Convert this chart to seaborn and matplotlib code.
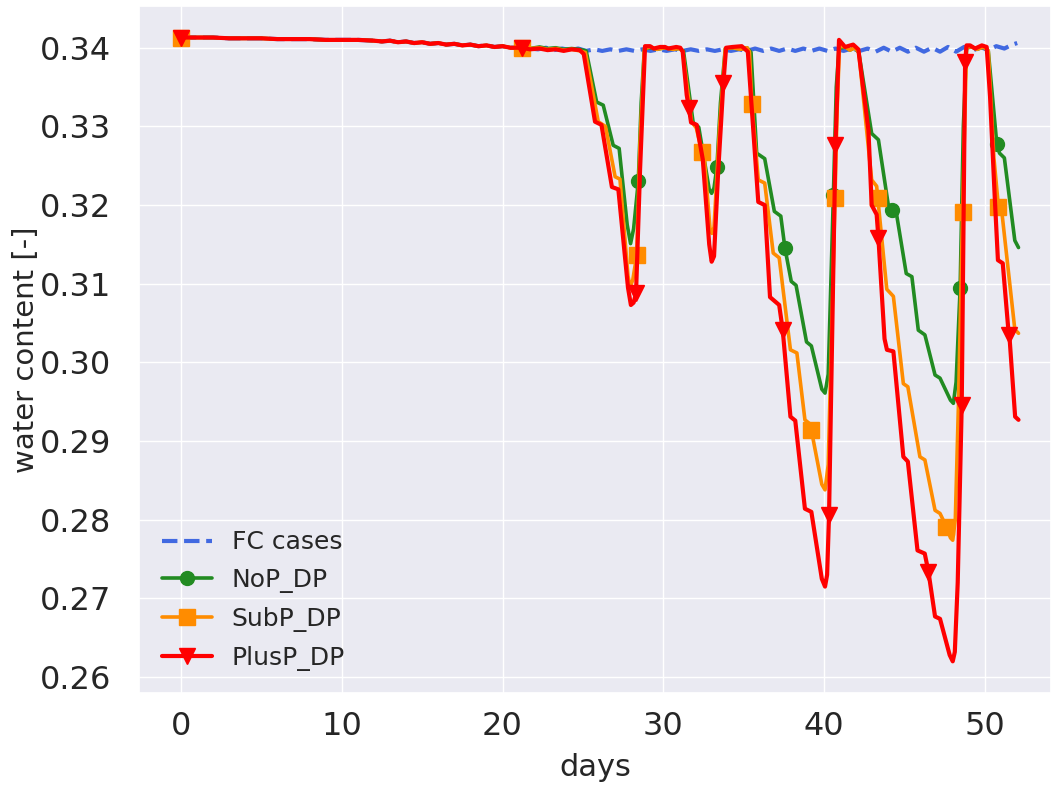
import numpy as np
import pandas as pd
import matplotlib
matplotlib.use("Agg")
import matplotlib.pyplot as plt
from matplotlib.ticker import FormatStrFormatter
import seaborn as sns

# ---------------------------------------------------------------------------
# Water content time series (days, volumetric water content [-])
# ---------------------------------------------------------------------------
# Shared spin-up period, identical for every case
early_days = [0, 1, 2, 3, 4, 5, 6, 7, 8, 9, 10, 11, 12, 12.5, 13, 13.5, 14,
              14.5, 15, 15.5, 16, 16.5, 17, 17.5, 18, 18.5, 19, 19.5, 20,
              20.5, 21.2]
early_wc = [0.3413, 0.3413, 0.3413, 0.3412, 0.3412, 0.3412, 0.3411, 0.3411,
            0.3411, 0.3410, 0.3410, 0.3410, 0.3409, 0.3408, 0.3409, 0.3407,
            0.3408, 0.3406, 0.3407, 0.3405, 0.3406, 0.3404, 0.3405, 0.3403,
            0.3404, 0.3402, 0.3403, 0.3401, 0.3402, 0.3400, 0.3400]

# FC cases
fc_days = [21.7, 22.2, 22.7, 23.2, 23.7, 24.2, 24.7, 25.2, 25.7, 26.2, 26.7,
           27.2, 27.7, 28.2, 28.7, 29.2, 29.7, 30.2, 30.7, 31.2, 31.7, 32.2,
           32.7, 33.2, 33.7, 34.2, 34.7, 35.2, 35.7, 36.2, 36.7, 37.2, 37.7,
           38.2, 38.7, 39.2, 39.7, 40.2, 40.7, 41.2, 41.7, 42.2, 42.7, 43.2,
           43.7, 44.2, 44.7, 45.2, 45.7, 46.2, 46.7, 47.2, 47.7, 48.2, 48.7,
           49.2, 49.7, 50.2, 50.7, 51.2, 51.7, 52.0]
fc_wc = [0.3399, 0.3398, 0.3400, 0.3397, 0.3399, 0.3397, 0.3399, 0.3396,
         0.3398, 0.3396, 0.3398, 0.3396, 0.3398, 0.3396, 0.3398, 0.3396,
         0.3398, 0.3396, 0.3398, 0.3396, 0.3398, 0.3396, 0.3398, 0.3396,
         0.3398, 0.3396, 0.3398, 0.3396, 0.3399, 0.3396, 0.3399, 0.3396,
         0.3399, 0.3396, 0.3399, 0.3396, 0.3399, 0.3396, 0.3399, 0.3396,
         0.3399, 0.3396, 0.3399, 0.3395, 0.3400, 0.3395, 0.3400, 0.3395,
         0.3400, 0.3395, 0.3400, 0.3395, 0.3401, 0.3395, 0.3401, 0.3396,
         0.3401, 0.3397, 0.3402, 0.3399, 0.3404, 0.3406]

# NoP_DP
nop_days = [21.7, 22.3, 22.8, 23.3, 23.8, 24.3, 24.8, 25.2, 25.85, 26.26,
            26.88, 27.25, 27.75, 27.96, 28.15, 28.44, 28.62, 28.82, 29.2,
            29.6, 30.1, 30.6, 31.0, 31.25, 31.85, 32.2, 32.85, 33.0, 33.15,
            33.33, 33.55, 33.85, 34.3, 34.8, 35.2, 35.45, 35.8, 36.3, 36.9,
            37.3, 37.56, 37.95, 38.25, 38.9, 39.2, 39.85, 40.05, 40.25, 40.57,
            40.75, 40.92, 41.3, 41.6, 41.9, 42.15, 42.95, 43.37, 44.0, 44.2,
            44.5, 45.1, 45.45, 45.85, 46.26, 46.89, 47.2, 47.85, 48.03, 48.2,
            48.45, 48.65, 48.85, 49.2, 49.5, 49.9, 50.2, 50.73, 50.9, 51.2,
            51.85, 52.08]
nop_wc = [0.3399, 0.3401, 0.3399, 0.3400, 0.3398, 0.3399, 0.3398, 0.3396,
          0.3331, 0.3327, 0.3276, 0.3272, 0.3175, 0.3151, 0.3170, 0.3230,
          0.3330, 0.3399, 0.3400, 0.3398, 0.3400, 0.3398, 0.3399, 0.3396,
          0.3305, 0.3299, 0.3220, 0.3215, 0.3222, 0.3249, 0.3330, 0.3399,
          0.3400, 0.3398, 0.3400, 0.3394, 0.3266, 0.3259, 0.3192, 0.3186,
          0.3145, 0.3103, 0.3098, 0.3026, 0.3021, 0.2966, 0.2961, 0.2985,
          0.3213, 0.3350, 0.3399, 0.3401, 0.3397, 0.3400, 0.3394, 0.3291,
          0.3283, 0.3198, 0.3194, 0.3188, 0.3113, 0.3109, 0.3041, 0.3035,
          0.2984, 0.2980, 0.2952, 0.2948, 0.2975, 0.3094, 0.3300, 0.3400,
          0.3401, 0.3398, 0.3401, 0.3396, 0.3278, 0.3266, 0.3260, 0.3155,
          0.3146]
nop_marker_days = [0, 21.2, 28.44, 33.33, 37.56, 40.57, 44.2, 48.45, 50.73]

# SubP_DP
subp_days = [21.7, 22.3, 22.8, 23.3, 23.8, 24.3, 24.8, 25.15, 25.95, 26.4,
             27.0, 27.3, 27.8, 27.93, 28.1, 28.34, 28.55, 28.82, 29.2, 29.6,
             30.1, 30.6, 31.0, 31.2, 31.75, 32.05, 32.38, 32.55, 32.9, 33.02,
             33.15, 33.5, 33.85, 34.3, 34.8, 35.2, 35.35, 35.5, 35.9, 36.3,
             36.83, 37.2, 37.9, 38.3, 38.8, 39.1, 39.2, 39.85, 40.05, 40.25,
             40.67, 40.8, 40.95, 41.3, 41.6, 41.9, 42.15, 42.95, 43.26, 43.33,
             43.89, 44.3, 44.92, 45.2, 45.95, 46.26, 46.89, 47.2, 47.6, 47.85,
             47.99, 48.15, 48.35, 48.6, 48.85, 49.2, 49.5, 49.9, 50.2, 50.55,
             50.83, 51.05, 51.85, 52.08]
subp_wc = [0.3399, 0.3400, 0.3398, 0.3399, 0.3397, 0.3398, 0.3396, 0.3394,
           0.3306, 0.3300, 0.3236, 0.3233, 0.3110, 0.3096, 0.3105, 0.3136,
           0.3280, 0.3399, 0.3401, 0.3398, 0.3400, 0.3398, 0.3399, 0.3396,
           0.3306, 0.3298, 0.3268, 0.3258, 0.3170, 0.3164, 0.3172, 0.3300,
           0.3399, 0.3400, 0.3398, 0.3400, 0.3395, 0.3329, 0.3232, 0.3228,
           0.3139, 0.3133, 0.3016, 0.3012, 0.2927, 0.2922, 0.2914, 0.2845,
           0.2838, 0.2870, 0.3209, 0.3320, 0.3402, 0.3401, 0.3397, 0.3400,
           0.3394, 0.3232, 0.3224, 0.3209, 0.3093, 0.3084, 0.2973, 0.2969,
           0.2880, 0.2876, 0.2812, 0.2808, 0.2791, 0.2777, 0.2774, 0.2800,
           0.2950, 0.3191, 0.3401, 0.3401, 0.3398, 0.3401, 0.3396, 0.3260,
           0.3198, 0.3190, 0.3042, 0.3037]
subp_marker_days = [0, 21.2, 28.34, 32.38, 35.5, 39.2, 40.67, 43.33, 47.6,
                    48.6, 50.83]

# PlusP_DP
plusp_days = [21.7, 22.3, 22.8, 23.3, 23.8, 24.3, 24.8, 25.05, 25.75, 26.15,
              26.8, 27.2, 27.8, 27.98, 28.15, 28.3, 28.55, 28.86, 29.17, 29.4,
              29.8, 30.1, 30.3, 30.8, 31.05, 31.2, 31.45, 31.59, 31.72, 32.07,
              32.45, 32.85, 33.0, 33.15, 33.4, 33.73, 33.9, 34.3, 34.87, 35.25,
              35.9, 36.3, 36.63, 37.2, 37.42, 37.9, 38.2, 38.8, 39.2, 39.85,
              40.05, 40.18, 40.3, 40.7, 40.92, 41.3, 41.8, 42.12, 42.75, 42.95,
              43.26, 43.37, 43.75, 43.9, 44.3, 44.92, 45.2, 45.8, 46.25, 46.48,
              46.89, 47.2, 47.8, 47.99, 48.12, 48.3, 48.55, 48.76, 48.85, 49.07,
              49.38, 49.8, 50.1, 50.31, 50.6, 50.8, 51.1, 51.45, 51.51, 51.87,
              52.08]
plusp_wc = [0.3398, 0.3399, 0.3397, 0.3398, 0.3396, 0.3398, 0.3397, 0.3392,
            0.3306, 0.3302, 0.3223, 0.3220, 0.3095, 0.3073, 0.3076, 0.3088,
            0.3245, 0.3402, 0.3402, 0.3399, 0.3401, 0.3401, 0.3399, 0.3401,
            0.3400, 0.3395, 0.3340, 0.3323, 0.3305, 0.3302, 0.3258, 0.3150,
            0.3128, 0.3135, 0.3240, 0.3355, 0.3400, 0.3401, 0.3402, 0.3395,
            0.3204, 0.3200, 0.3083, 0.3073, 0.3041, 0.2931, 0.2926, 0.2814,
            0.2810, 0.2725, 0.2715, 0.2730, 0.2806, 0.3276, 0.3410, 0.3401,
            0.3404, 0.3398, 0.3295, 0.3200, 0.3188, 0.3158, 0.3030, 0.3016,
            0.3014, 0.2880, 0.2874, 0.2761, 0.2757, 0.2734, 0.2677, 0.2674,
            0.2628, 0.2620, 0.2632, 0.2720, 0.2946, 0.3382, 0.3403, 0.3403,
            0.3399, 0.3403, 0.3401, 0.3338, 0.3211, 0.3130, 0.3126, 0.3041,
            0.3035, 0.2931, 0.2927]
plusp_marker_days = [0, 21.2, 28.3, 31.59, 33.73, 37.42, 40.3, 40.7, 43.37,
                     46.48, 48.55, 48.76, 51.51]

x_ticks = [0, 10, 20, 30, 40, 50]
y_ticks = [0.26, 0.27, 0.28, 0.29, 0.30, 0.31, 0.32, 0.33, 0.34]

# ---------------------------------------------------------------------------
sns.set_theme(style="darkgrid")
plt.rcParams["font.family"] = ["DejaVu Sans"]

fig = plt.figure(figsize=(10.51, 7.87), dpi=100)
ax = fig.add_axes([0.1323, 0.1194, 0.8677, 0.8729])


def series_frame(days, wc):
    return pd.DataFrame({"days": early_days + days, "wc": early_wc + wc})


def marker_index(frame, marker_days):
    d = frame["days"].to_numpy()
    return [int(np.argmin(np.abs(d - m))) for m in marker_days]


fc = series_frame(fc_days, fc_wc)
sns.lineplot(data=fc, x="days", y="wc", ax=ax, color="royalblue",
             linestyle="--", linewidth=3.0, label="FC cases",
             estimator=None, errorbar=None)

cases = [
    ("NoP_DP", nop_days, nop_wc, nop_marker_days, "forestgreen", "o", 10, 2.6),
    ("SubP_DP", subp_days, subp_wc, subp_marker_days, "darkorange", "s", 11, 2.6),
    ("PlusP_DP", plusp_days, plusp_wc, plusp_marker_days, "red", "v", 11, 3.0),
]
for name, d, w, md, col, mk, ms, lw in cases:
    frame = series_frame(d, w)
    sns.lineplot(data=frame, x="days", y="wc", ax=ax, color=col,
                 linewidth=lw, marker=mk, markersize=ms,
                 markeredgecolor=col, markeredgewidth=1,
                 markevery=marker_index(frame, md), label=name,
                 estimator=None, errorbar=None)

ax.set_xlim(-2.6, 54.1)
ax.set_ylim(0.25797, 0.3453)
ax.set_xticks(x_ticks)
ax.set_yticks(y_ticks)
ax.yaxis.set_major_formatter(FormatStrFormatter("%.2f"))
ax.tick_params(axis="both", labelsize=23, colors=".15")
ax.tick_params(axis="x", pad=7)
ax.tick_params(axis="y", pad=14)
ax.set_xlabel("days", fontsize=22, labelpad=8)
ax.set_ylabel("water content [-]", fontsize=21, labelpad=0)

ax.legend(loc="lower left", frameon=False, fontsize=18, handlelength=2.0,
          labelspacing=0.55)

fig.savefig("out.png", dpi=100)
